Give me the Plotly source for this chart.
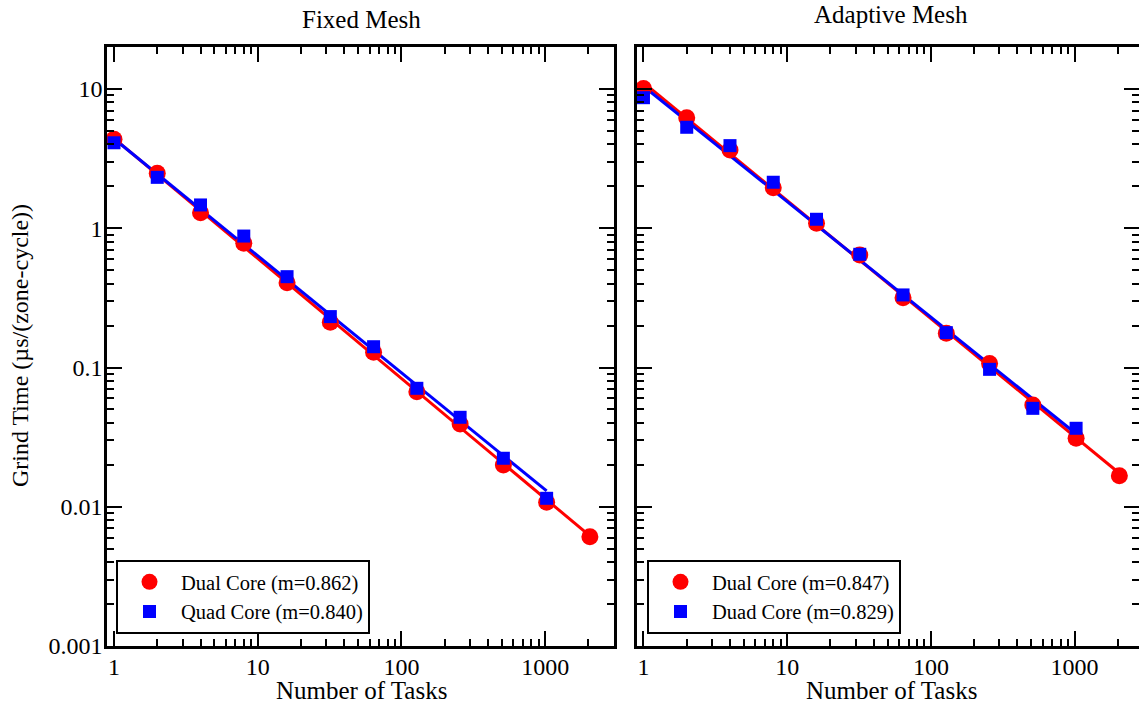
import numpy as np
import plotly.graph_objects as go

# ---- data ----
tasks = [1, 2, 4, 8, 16, 32, 64, 128, 256, 512, 1024, 2048]
tasks_quad = [1, 2, 4, 8, 16, 32, 64, 128, 256, 512, 1024]

fixed_dual = [4.35, 2.48, 1.29, 0.78, 0.406, 0.211, 0.1285, 0.067, 0.0393, 0.01995, 0.01076, 0.0061]
fixed_quad = [4.11, 2.32, 1.47, 0.879, 0.449, 0.232, 0.141, 0.0709, 0.0439, 0.0223, 0.0115]
adapt_dual = [10.1, 6.22, 3.65, 1.95, 1.085, 0.643, 0.317, 0.176, 0.107, 0.0538, 0.031, 0.0167]
adapt_quad = [8.66, 5.31, 3.92, 2.14, 1.16, 0.650, 0.332, 0.178, 0.097, 0.0509, 0.0366]

fixed_dual_m = 0.862
fixed_quad_m = 0.840
adapt_dual_m = 0.847
adapt_quad_m = 0.829

fixed_names = ["Dual Core (m=0.862)", "Quad Core (m=0.840)"]
adapt_names = ["Dual Core (m=0.847)", "Duad Core (m=0.829)"]
panel_titles = ["Fixed Mesh", "Adaptive Mesh"]
x_title = "Number of Tasks"
y_title = "Grind Time (µs/(zone-cycle))"

x_tickvals = [1, 10, 100, 1000]
x_ticktext = ["1", "10", "100", "1000"]
y_tickvals = [0.001, 0.01, 0.1, 1, 10]
y_ticktext = ["0.001", "0.01", "0.1", "1", "10"]

RED = "#ff0000"
BLUE = "#0000ff"
FONT = "Liberation Serif"
W, H = 1139, 706


def fit_line(x, y, m):
    lx = np.log10(np.array(x, dtype=float))
    ly = np.log10(np.array(y, dtype=float))
    loga = np.mean(ly + m * lx)
    return list(x), list(10 ** (loga - m * lx))


fig = go.Figure()

panels = [
    ("x", "y", "legend", fixed_dual, fixed_quad, fixed_dual_m, fixed_quad_m, fixed_names),
    ("x2", "y2", "legend2", adapt_dual, adapt_quad, adapt_dual_m, adapt_quad_m, adapt_names),
]

for xa, ya, lg, dual, quad, md, mq, names in panels:
    fx, fy = fit_line(tasks, dual, md)
    fig.add_trace(go.Scatter(x=fx, y=fy, mode="lines", line=dict(color=RED, width=3),
                             xaxis=xa, yaxis=ya, showlegend=False, hoverinfo="skip"))
    qx, qy = fit_line(tasks_quad, quad, mq)
    fig.add_trace(go.Scatter(x=qx, y=qy, mode="lines", line=dict(color=BLUE, width=3),
                             xaxis=xa, yaxis=ya, showlegend=False, hoverinfo="skip"))
    fig.add_trace(go.Scatter(x=tasks, y=dual, mode="markers", name=names[0],
                             marker=dict(symbol="circle", size=17, color=RED, line=dict(width=0)),
                             xaxis=xa, yaxis=ya, legend=lg, cliponaxis=False))
    fig.add_trace(go.Scatter(x=tasks_quad, y=quad, mode="markers", name=names[1],
                             marker=dict(symbol="square", size=13, color=BLUE, line=dict(width=0)),
                             xaxis=xa, yaxis=ya, legend=lg, cliponaxis=False))

minor_vals = [k * 10.0 ** d for d in range(-3, 4) for k in range(2, 10)]

tickfont = dict(family=FONT, size=24, color="black")
common = dict(
    type="log", showline=True, linecolor="black", linewidth=2.5, mirror="allticks",
    ticks="inside", ticklen=15, tickwidth=1.5, tickcolor="black",
    showgrid=False, zeroline=False, tickfont=tickfont, automargin=False,
    minor=dict(ticks="inside", ticklen=7, tickwidth=1.5, tickcolor="black",
               tickmode="array", tickvals=minor_vals, showgrid=False),
)

ydom = [60 / H, 659 / H]
legend_common = dict(y=(H - 560) / H, xanchor="left", yanchor="top",
                     bordercolor="black", borderwidth=2, bgcolor="white",
                     font=dict(family=FONT, size=20.5, color="black"), itemwidth=53,
                     tracegroupgap=0)
fig.update_layout(
    width=W, height=H,
    margin=dict(l=0, r=0, t=0, b=0, autoexpand=False),
    paper_bgcolor="white", plot_bgcolor="white",
    font=dict(family=FONT, size=24, color="black"),
    xaxis=dict(domain=[107 / W, 614 / W], range=[-0.0487, 3.479], anchor="y",
               tickmode="array", tickvals=x_tickvals, ticktext=x_ticktext,
               ticklabelstandoff=-3, **common),
    yaxis=dict(domain=ydom, range=[-3, 1.3016], anchor="x",
               tickmode="array", tickvals=y_tickvals, ticktext=y_ticktext,
               ticklabelstandoff=-3, **common),
    xaxis2=dict(domain=[637 / W, 1.0], range=[-0.045, 3.448], anchor="y2",
                tickmode="array", tickvals=x_tickvals, ticktext=x_ticktext,
                ticklabelstandoff=-3, **common),
    yaxis2=dict(domain=ydom, range=[-3, 1.3016], anchor="x2",
                tickmode="array", tickvals=y_tickvals, ticktext=y_ticktext,
                showticklabels=False, **common),
    legend=dict(x=116 / W, **legend_common),
    legend2=dict(x=647 / W, **legend_common),
    showlegend=True,
)

annos = [
    dict(text=panel_titles[0], x=361 / W, y=(H - 20) / H, font=dict(family=FONT, size=25)),
    dict(text=panel_titles[1], x=891 / W, y=(H - 14) / H, font=dict(family=FONT, size=25)),
    dict(text=x_title, x=361 / W, y=(H - 690) / H, font=dict(family=FONT, size=25)),
    dict(text=x_title, x=891 / W, y=(H - 690) / H, font=dict(family=FONT, size=25)),
    dict(text=y_title, x=20 / W, y=(H - 346) / H, textangle=-90, font=dict(family=FONT, size=24)),
]
for a in annos:
    fig.add_annotation(xref="paper", yref="paper", showarrow=False,
                       xanchor="center", yanchor="middle", **a)

fig.write_html("out.html",
               config={"displayModeBar": False},
               post_script="document.body.style.margin='0';document.body.style.overflow='hidden';")
